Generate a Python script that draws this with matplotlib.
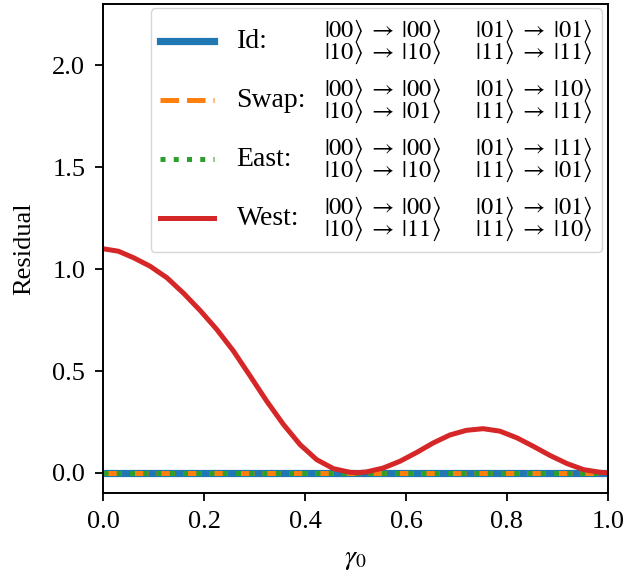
import matplotlib
matplotlib.use("Agg")
import matplotlib.pyplot as plt

# Residual of the West gate, the other gates stay at zero.
gamma0 = [0.000, 0.030, 0.060, 0.093, 0.126, 0.159, 0.192, 0.225, 0.258,
          0.291, 0.324, 0.357, 0.390, 0.423, 0.456, 0.489, 0.505, 0.522,
          0.555, 0.588, 0.621, 0.654, 0.687, 0.720, 0.753, 0.786, 0.820,
          0.852, 0.886, 0.919, 0.952, 0.985, 1.000]
west_residual = [1.100, 1.088, 1.056, 1.014, 0.958, 0.882, 0.797, 0.704, 0.598,
                 0.476, 0.352, 0.238, 0.139, 0.065, 0.021, 0.003, 0.001, 0.005,
                 0.024, 0.057, 0.100, 0.147, 0.186, 0.209, 0.217, 0.205, 0.172,
                 0.131, 0.085, 0.046, 0.016, 0.003, 0.000]
flat_gamma = [0.0, 1.0]
id_residual = [0.0, 0.0]
swap_residual = [0.0, 0.0]
east_residual = [0.0, 0.0]

gate_names = ["Id:", "Swap:", "East:", "West:"]
gate_maps = [
    ("00", "00", "01", "01", "10", "10", "11", "11"),
    ("00", "00", "01", "10", "10", "01", "11", "11"),
    ("00", "00", "01", "11", "10", "10", "11", "01"),
    ("00", "00", "01", "01", "10", "11", "11", "10"),
]


def ket_label(m):
    row = r"$|%s\rangle\;\rightarrow\;|%s\rangle \qquad |%s\rangle\;\rightarrow\;|%s\rangle$"
    return row % m[:4] + "\n" + row % m[4:]


plt.rcParams["font.family"] = "serif"
plt.rcParams["font.serif"] = ["Liberation Serif", "DejaVu Serif"]
plt.rcParams["mathtext.fontset"] = "stix"

fig = plt.figure(figsize=(6.44, 5.81), dpi=100)
ax = fig.add_axes([0.1604, 0.151, 0.7833, 0.8416])

labels = [ket_label(m) for m in gate_maps]
ax.plot(flat_gamma, id_residual, color="tab:blue", lw=5.2, label=labels[0])
ax.plot(flat_gamma, swap_residual, color="tab:orange", lw=3.6, ls="--", label=labels[1])
ax.plot(flat_gamma, east_residual, color="tab:green", lw=3.6, ls=":", label=labels[2])
ax.plot(gamma0, west_residual, color="tab:red", lw=3.6, label=labels[3])

ax.set_xlim(0, 1)
ax.set_ylim(-0.1, 2.3)
ax.set_xticks([0.0, 0.2, 0.4, 0.6, 0.8, 1.0])
ax.set_yticks([0.0, 0.5, 1.0, 1.5, 2.0])
ax.tick_params(labelsize=19, length=6, width=1.3, pad=7)
for sp in ax.spines.values():
    sp.set_linewidth(1.4)
ax.set_xlabel(r"$\gamma_0$", fontsize=20, labelpad=10)
ax.set_ylabel("Residual", fontsize=19, labelpad=12)

leg = ax.legend(loc="upper right", bbox_to_anchor=(0.9887, 0.9924), borderaxespad=0,
                fontsize=17.5, handlelength=2.22, handletextpad=4.5,
                labelspacing=0.44, borderpad=0.40)
for t in leg.get_texts():
    t.set_linespacing(0.78)

# gate names sit between the handle and the ket table
fig.canvas.draw()
renderer = fig.canvas.get_renderer()
for txt, name in zip(leg.get_texts(), gate_names):
    bb = txt.get_window_extent(renderer)
    fx, fy = fig.transFigure.inverted().transform((bb.x0 - 87, 0.5 * (bb.y0 + bb.y1)))
    fig.text(fx, fy, name, ha="left", va="center", fontsize=20, zorder=10)

fig.savefig("out.png", dpi=100)
